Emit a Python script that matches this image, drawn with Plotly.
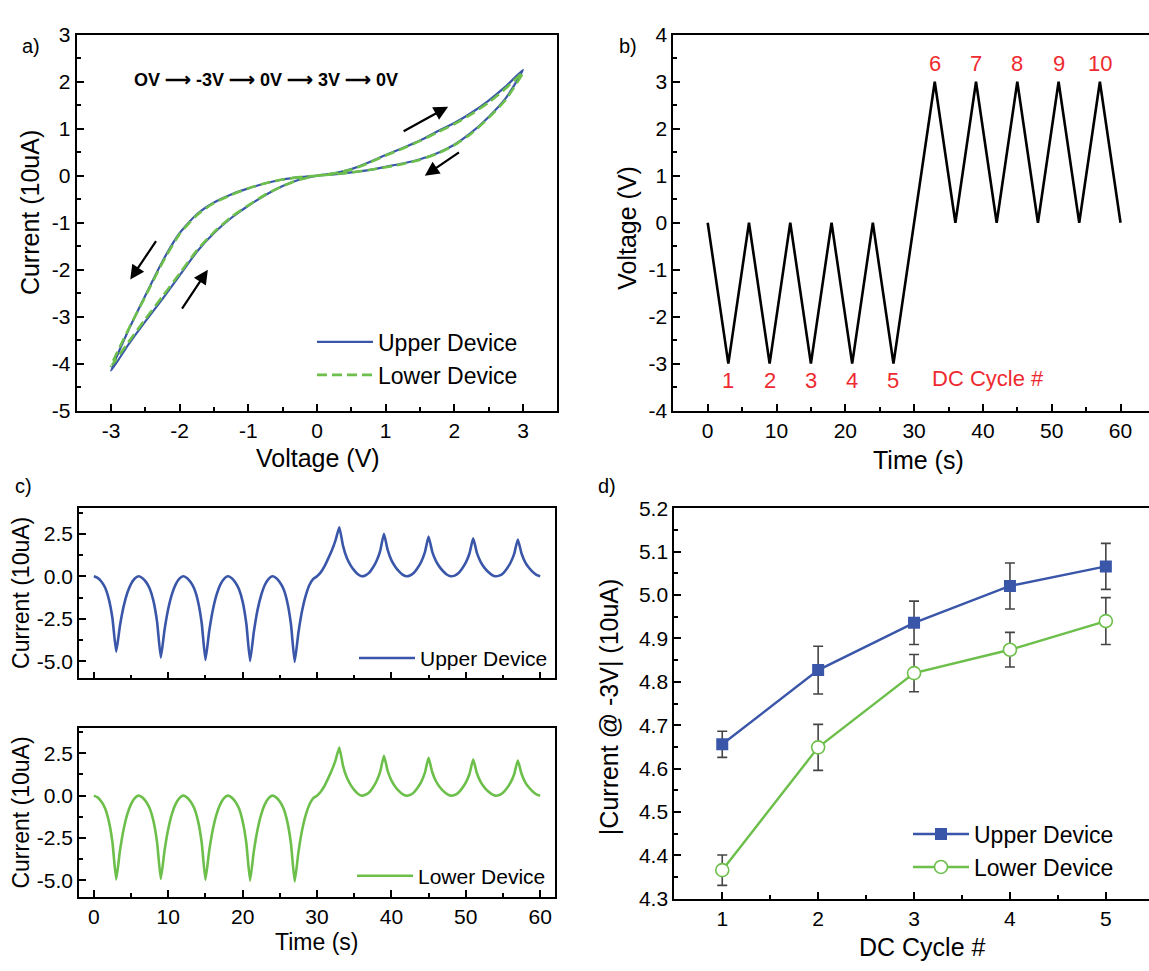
import plotly.graph_objects as go

W, H = 1149, 971


def px(x):
    return x / W


def py(y):
    return 1 - y / H


FONT = "Liberation Sans, Arial, Helvetica, sans-serif"
BLUE = "#3a56a8"
GREEN = "#6cbf4a"
RED = "#ee2a30"

# ---------------- Panel a: I-V sweep 0 -> -3 -> 0 -> 3 -> 0 V ----------------
iv_voltage = [0.0, -0.25, -0.5, -0.75, -1.0, -1.25, -1.5, -1.75, -2.0, -2.25, -2.5, -2.75, -3.0,
              -2.75, -2.5, -2.25, -2.0, -1.75, -1.5, -1.25, -1.0, -0.75, -0.5, -0.25, 0.0,
              0.25, 0.5, 0.75, 1.0, 1.25, 1.5, 1.75, 2.0, 2.25, 2.5, 2.75, 3.0,
              2.75, 2.5, 2.25, 2.0, 1.75, 1.5, 1.25, 1.0, 0.75, 0.5, 0.25, 0.0]
iv_upper = [0.0, -0.03, -0.08, -0.16, -0.27, -0.40, -0.57, -0.82, -1.22, -1.82, -2.55, -3.30, -4.15,
            -3.60, -3.10, -2.62, -2.12, -1.62, -1.22, -0.90, -0.64, -0.41, -0.22, -0.08, 0.0,
            0.05, 0.14, 0.28, 0.44, 0.59, 0.75, 0.94, 1.12, 1.34, 1.60, 1.90, 2.25,
            1.65, 1.25, 0.92, 0.66, 0.48, 0.35, 0.26, 0.19, 0.12, 0.07, 0.03, 0.0]
iv_lower = [0.0, -0.03, -0.08, -0.16, -0.27, -0.41, -0.58, -0.84, -1.24, -1.85, -2.57, -3.28, -4.05,
            -3.55, -3.05, -2.57, -2.08, -1.59, -1.20, -0.88, -0.63, -0.40, -0.22, -0.08, 0.0,
            0.05, 0.13, 0.27, 0.43, 0.58, 0.74, 0.92, 1.10, 1.31, 1.56, 1.86, 2.20,
            1.62, 1.23, 0.90, 0.65, 0.47, 0.34, 0.25, 0.18, 0.12, 0.07, 0.03, 0.0]
a_xticks = [-3, -2, -1, 0, 1, 2, 3]
a_xtext = ["-3", "-2", "-1", "0", "1", "2", "3"]
a_yticks = [-5, -4, -3, -2, -1, 0, 1, 2, 3]
a_ytext = ["-5", "-4", "-3", "-2", "-1", "0", "1", "2", "3"]

# ---------------- Panel b: applied voltage waveform ----------------
wave_t = [0, 3, 6, 9, 12, 15, 18, 21, 24, 27, 33, 36, 39, 42, 45, 48, 51, 54, 57, 60]
wave_v = [0, -3, 0, -3, 0, -3, 0, -3, 0, -3, 3, 0, 3, 0, 3, 0, 3, 0, 3, 0]
neg_label_t = [3, 9, 15, 21, 27]
neg_labels = ["1", "2", "3", "4", "5"]
pos_label_t = [33, 39, 45, 51, 57]
pos_labels = ["6", "7", "8", "9", "10"]
b_xticks = [0, 10, 20, 30, 40, 50, 60]
b_yticks = [-4, -3, -2, -1, 0, 1, 2, 3, 4]
b_ytext = ["-4", "-3", "-2", "-1", "0", "1", "2", "3", "4"]

# ---------------- Panel c: current vs time ----------------
time_s = [0.0, 0.5, 1.0, 1.5, 2.0, 2.5, 3.0, 3.5, 4.0, 4.5, 5.0, 5.5, 6.0, 6.5, 7.0, 7.5, 8.0, 8.5, 9.0, 9.5,
          10.0, 10.5, 11.0, 11.5, 12.0, 12.5, 13.0, 13.5, 14.0, 14.5, 15.0, 15.5, 16.0, 16.5, 17.0, 17.5,
          18.0, 18.5, 19.0, 19.5, 20.0, 20.5, 21.0, 21.5, 22.0, 22.5, 23.0, 23.5, 24.0, 24.5, 25.0, 25.5,
          26.0, 26.5, 27.0, 27.5, 28.0, 28.5, 29.0, 29.5, 30.0, 30.5, 31.0, 31.5, 32.0, 32.5, 33.0, 33.5,
          34.0, 34.5, 35.0, 35.5, 36.0, 36.5, 37.0, 37.5, 38.0, 38.5, 39.0, 39.5, 40.0, 40.5, 41.0, 41.5,
          42.0, 42.5, 43.0, 43.5, 44.0, 44.5, 45.0, 45.5, 46.0, 46.5, 47.0, 47.5, 48.0, 48.5, 49.0, 49.5,
          50.0, 50.5, 51.0, 51.5, 52.0, 52.5, 53.0, 53.5, 54.0, 54.5, 55.0, 55.5, 56.0, 56.5, 57.0, 57.5,
          58.0, 58.5, 59.0, 59.5, 60.0]
cur_upper = [0.0,
             -0.09, -0.31, -0.66, -1.33, -2.48, -4.43, -2.92, -1.77, -0.97, -0.44, -0.13, 0.0,
             -0.10, -0.33, -0.72, -1.43, -2.68, -4.78, -3.15, -1.91, -1.05, -0.48, -0.14, 0.0,
             -0.10, -0.34, -0.74, -1.48, -2.76, -4.92, -3.25, -1.97, -1.08, -0.49, -0.15, 0.0,
             -0.10, -0.35, -0.75, -1.49, -2.79, -4.98, -3.29, -1.99, -1.10, -0.50, -0.15, 0.0,
             -0.10, -0.35, -0.75, -1.51, -2.82, -5.03, -3.32, -2.01, -1.11, -0.50, -0.15, 0.0,
             0.23, 0.58, 1.04, 1.53, 2.13, 2.88, 1.79, 1.09, 0.66, 0.35, 0.12, 0.0,
             0.05, 0.20, 0.50, 0.90, 1.50, 2.50, 1.55, 0.95, 0.58, 0.30, 0.10, 0.0,
             0.05, 0.19, 0.47, 0.84, 1.40, 2.33, 1.44, 0.89, 0.54, 0.28, 0.09, 0.0,
             0.04, 0.18, 0.45, 0.80, 1.34, 2.23, 1.38, 0.85, 0.51, 0.27, 0.09, 0.0,
             0.04, 0.17, 0.43, 0.78, 1.30, 2.16, 1.34, 0.82, 0.50, 0.26, 0.09, 0.0]
cur_lower = [0.0,
             -0.10, -0.35, -0.74, -1.49, -2.77, -4.95, -3.27, -1.98, -1.09, -0.50, -0.15, 0.0,
             -0.10, -0.34, -0.74, -1.48, -2.76, -4.92, -3.25, -1.97, -1.08, -0.49, -0.15, 0.0,
             -0.10, -0.35, -0.75, -1.49, -2.78, -4.97, -3.28, -1.99, -1.09, -0.50, -0.15, 0.0,
             -0.10, -0.35, -0.75, -1.51, -2.81, -5.02, -3.31, -2.01, -1.10, -0.50, -0.15, 0.0,
             -0.10, -0.35, -0.76, -1.52, -2.84, -5.07, -3.35, -2.03, -1.12, -0.51, -0.15, 0.0,
             0.23, 0.57, 1.02, 1.51, 2.10, 2.84, 1.76, 1.08, 0.65, 0.34, 0.11, 0.0,
             0.05, 0.19, 0.47, 0.85, 1.42, 2.36, 1.46, 0.90, 0.54, 0.28, 0.09, 0.0,
             0.04, 0.18, 0.45, 0.80, 1.34, 2.23, 1.38, 0.85, 0.51, 0.27, 0.09, 0.0,
             0.04, 0.17, 0.43, 0.77, 1.28, 2.13, 1.32, 0.81, 0.49, 0.26, 0.09, 0.0,
             0.04, 0.17, 0.42, 0.75, 1.25, 2.08, 1.29, 0.79, 0.48, 0.25, 0.08, 0.0]
c_yticks = [-5.0, -2.5, 0.0, 2.5]
c_ytext = ["-5.0", "-2.5", "0.0", "2.5"]

# ---------------- Panel d: |current| at -3 V per DC cycle ----------------
cycles = [1, 2, 3, 4, 5]
upper_mean = [4.656, 4.827, 4.936, 5.021, 5.066]
upper_err = [0.030, 0.055, 0.050, 0.053, 0.053]
lower_mean = [4.366, 4.649, 4.820, 4.874, 4.940]
lower_err = [0.035, 0.053, 0.043, 0.040, 0.054]
d_yticks = [4.3, 4.4, 4.5, 4.6, 4.7, 4.8, 4.9, 5.0, 5.1, 5.2]


def axis(domain, rng, tickvals, ticktext=None, minor_dtick=None, mirror=True,
         showlabels=True, lw=2, tick_size=21, standoff=0):
    d = dict(domain=domain, range=rng, showline=True, linecolor="black", linewidth=lw,
             mirror=mirror, ticks="inside", ticklen=7, tickwidth=lw, tickcolor="black",
             showgrid=False, zeroline=False, tickmode="array", tickvals=tickvals,
             showticklabels=showlabels, ticklabelstandoff=standoff,
             tickfont=dict(size=tick_size, color="black", family=FONT))
    if ticktext is not None:
        d["ticktext"] = ticktext
    if minor_dtick is not None:
        d["minor"] = dict(ticks="inside", ticklen=4, tickwidth=lw, tickcolor="black",
                          dtick=minor_dtick, tick0=0, showgrid=False)
    return d


fig = go.Figure()

# Panel a
fig.add_trace(go.Scatter(x=iv_voltage, y=iv_upper, mode="lines", name="Upper Device",
                         line=dict(color=BLUE, width=2.2, shape="spline", smoothing=0.6),
                         xaxis="x", yaxis="y", legend="legend"))
fig.add_trace(go.Scatter(x=iv_voltage, y=iv_lower, mode="lines", name="Lower Device",
                         line=dict(color=GREEN, width=2.6, dash="10px,5px", shape="spline",
                                   smoothing=0.6),
                         xaxis="x", yaxis="y", legend="legend"))

# Panel b
fig.add_trace(go.Scatter(x=wave_t, y=wave_v, mode="lines", showlegend=False,
                         line=dict(color="black", width=2.6), xaxis="x2", yaxis="y2"))

# Panel c
fig.add_trace(go.Scatter(x=time_s, y=cur_upper, mode="lines", name="Upper Device",
                         line=dict(color=BLUE, width=2.6, shape="spline", smoothing=0.45),
                         xaxis="x3", yaxis="y3", legend="legend2"))
fig.add_trace(go.Scatter(x=time_s, y=cur_lower, mode="lines", name="Lower Device",
                         line=dict(color=GREEN, width=2.6, shape="spline", smoothing=0.45),
                         xaxis="x4", yaxis="y4", legend="legend3"))

# Panel d
fig.add_trace(go.Scatter(x=cycles, y=upper_mean, mode="lines+markers", name="Upper Device",
                         line=dict(color=BLUE, width=2.4),
                         marker=dict(symbol="square", size=12, color=BLUE),
                         error_y=dict(type="data", array=upper_err, color="#444444",
                                      thickness=1.6, width=5),
                         xaxis="x5", yaxis="y5", legend="legend4"))
fig.add_trace(go.Scatter(x=cycles, y=lower_mean, mode="lines+markers", name="Lower Device",
                         line=dict(color=GREEN, width=2.4),
                         marker=dict(symbol="circle", size=13, color="white",
                                     line=dict(color=GREEN, width=1.6)),
                         error_y=dict(type="data", array=lower_err, color="#444444",
                                      thickness=1.6, width=5),
                         xaxis="x5", yaxis="y5", legend="legend4"))

a_x = [px(76.7), px(557.3)]
ab_y = [py(408.3), py(23.3)]
b_x = [px(673.3), 1.0]
c_x = [px(79), px(555)]
c1_y = [py(682.5), py(508.3)]
c2_y = [py(906.7), py(733.3)]
d_x = [px(674.3), 1.0]
d_y = [py(908.3), py(508.3)]


def legend_style(x, y, size):
    return dict(bgcolor="rgba(0,0,0,0)", borderwidth=0, xanchor="left", yanchor="top",
                tracegroupgap=0, itemwidth=56, x=px(x), y=py(y),
                font=dict(size=size, color="black", family=FONT))


fig.update_layout(
    width=W, height=H, margin=dict(l=0, r=0, t=0, b=0),
    paper_bgcolor="white", plot_bgcolor="white",
    font=dict(family=FONT, color="black"),
    xaxis=axis(a_x, [-3.5, 3.5], a_xticks, a_xtext, 0.5),
    yaxis=axis(ab_y, [-5, 3], a_yticks, a_ytext, 0.5),
    xaxis2=dict(axis(b_x, [-5, 64.14], b_xticks, None, 5), anchor="y2"),
    yaxis2=dict(axis(ab_y, [-4, 4], b_yticks, b_ytext, 0.5, mirror=False), anchor="x2"),
    xaxis3=dict(axis(c_x, [-2, 62], b_xticks, None, 5, showlabels=False, lw=1.6), anchor="y3"),
    yaxis3=dict(axis(c1_y, [-6, 4], c_yticks, c_ytext, 1.25, lw=1.6), anchor="x3"),
    xaxis4=dict(axis(c_x, [-2, 62], b_xticks, None, 5, lw=1.6), anchor="y4"),
    yaxis4=dict(axis(c2_y, [-6, 4], c_yticks, c_ytext, 1.25, lw=1.6), anchor="x4"),
    xaxis5=dict(axis(d_x, [0.5, 5.45], cycles, None, 0.5), anchor="y5"),
    yaxis5=dict(axis(d_y, [4.3, 5.2], d_yticks, None, 0.05, mirror=False), anchor="x5",
                tickformat=".1f"),
    legend=legend_style(312, 316, 23),
    legend2=legend_style(354, 641, 21),
    legend3=legend_style(352, 864, 21),
    legend4=legend_style(908, 820, 23),
    showlegend=True,
)

ann = []


def label(text, x, y, size, angle=0, bold=False, color="black"):
    t = "<b>%s</b>" % text if bold else text
    ann.append(dict(text=t, x=px(x), y=py(y), xref="paper", yref="paper",
                    showarrow=False, textangle=angle, xanchor="center", yanchor="middle",
                    font=dict(size=size, color=color, family=FONT)))


# axis titles
label("Voltage (V)", 318, 457, 25)
label("Current (10uA)", 30, 206, 25, angle=-90)
label("Time (s)", 918, 459, 25)
label("Voltage (V)", 627, 221, 25, angle=-90)
label("Current (10uA)", 21, 595, 23, angle=-90)
label("Current (10uA)", 21, 820, 23, angle=-90)
label("Time (s)", 316, 953, 23)
label("|Current @ -3V| (10uA)", 609, 712, 25, angle=-90)
label("DC Cycle #", 922, 958, 25)

# panel letters
label("a)", 31, 35, 20)
label("b)", 628, 35, 20)
label("c)", 23, 486, 20)
label("d)", 607, 485, 20)

# sweep sequence text in panel a
nb = "\u00a0"
arr = nb + "\u27f6" + nb
label("OV" + arr + "-3V" + arr + "0V" + arr + "3V" + arr + "0V", 266, 70, 18, bold=True)

# sweep-direction arrows in panel a (data coordinates)
for (x0, y0, x1, y1) in [(1.24, 0.93, 1.91, 1.47), (2.09, 0.52, 1.57, 0.0),
                         (-2.33, -1.36, -2.72, -2.21), (-1.98, -2.86, -1.59, -2.0)]:
    ann.append(dict(x=x1, y=y1, ax=x0, ay=y0, xref="x", yref="y", axref="x", ayref="y",
                    text="", showarrow=True, arrowhead=2, arrowsize=1.3, arrowwidth=2.2,
                    arrowcolor="black"))

# DC cycle numbers in panel b
for t, s in zip(neg_label_t, neg_labels):
    ann.append(dict(x=t, y=-3.35, xref="x2", yref="y2", text=s, showarrow=False,
                    font=dict(size=22, color=RED, family=FONT)))
for t, s in zip(pos_label_t, pos_labels):
    ann.append(dict(x=t, y=3.39, xref="x2", yref="y2", text=s, showarrow=False,
                    font=dict(size=22, color=RED, family=FONT)))
ann.append(dict(x=40.7, y=-3.31, xref="x2", yref="y2", text="DC Cycle #", showarrow=False,
                font=dict(size=22, color=RED, family=FONT)))

fig.update_layout(annotations=ann)

fig.write_html("out.html", config={"displayModeBar": False},
               post_script="document.body.style.margin='0';document.body.style.overflow='hidden';")
